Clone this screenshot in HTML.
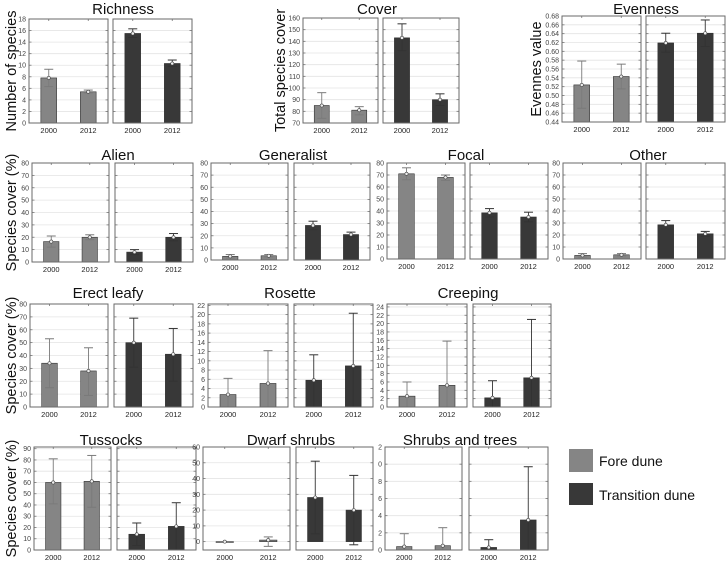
<!DOCTYPE html>
<html><head><meta charset="utf-8">
<style>
html,body{margin:0;padding:0;background:#fff;}
svg{display:block;font-family:"Liberation Sans",sans-serif;}
</style></head>
<body>
<svg id="fig" width="727" height="561" viewBox="0 0 727 561" xmlns="http://www.w3.org/2000/svg">
<g id="legend">
  <rect x="569" y="449" width="24" height="23" fill="#858585"/>
  <text x="599" y="466" font-size="14" fill="#111">Fore dune</text>
  <rect x="569" y="483" width="24" height="22" fill="#383838"/>
  <text x="599" y="500" font-size="14" fill="#111">Transition dune</text>
</g>
</svg>
<script>
const years = ['2000','2012'];
// values order: fore-2000, fore-2012, trans-2000, trans-2012
const richnessMean = [7.8, 5.4, 15.5, 10.3];
const richnessLow  = [6.3, 5.2, 14.8, 9.8];
const richnessHigh = [9.3, 5.7, 16.3, 10.9];
const richnessTicks = [0,2,4,6,8,10,12,14,16,18];

const coverMean = [85, 81, 143, 90];
const coverLow  = [74, 77, 132, 85];
const coverHigh = [96, 84, 155, 95];
const coverTicks = [70,80,90,100,110,120,130,140,150,160];

const evenMean = [0.524, 0.543, 0.619, 0.641];
const evenLow  = [0.471, 0.515, 0.598, 0.611];
const evenHigh = [0.578, 0.571, 0.641, 0.671];
const evenTicks = [0.44,0.46,0.48,0.50,0.52,0.54,0.56,0.58,0.60,0.62,0.64,0.66,0.68];

const alienMean = [16.5, 20, 8, 20];
const alienLow  = [12, 18, 6, 17];
const alienHigh = [21, 22, 10, 23];

const generalistMean = [3, 3.5, 28.5, 21];
const generalistLow  = [1.5, 2.5, 25, 19];
const generalistHigh = [4.5, 4.5, 32, 23];

const focalMean = [71, 68, 38.5, 35];
const focalLow  = [66, 65.5, 35, 31];
const focalHigh = [76, 70, 42, 39];

const otherMean = [3, 3.5, 28.5, 21];
const otherLow  = [1.5, 2.5, 25, 19];
const otherHigh = [4.5, 4.5, 32, 23];

const pct80Ticks = [0,10,20,30,40,50,60,70,80];

const erectMean = [34, 28, 50, 41];
const erectLow  = [15, 9, 31, 20];
const erectHigh = [53, 46, 69, 61];

const rosetteMean = [2.7, 5.1, 5.8, 8.9];
const rosetteLow  = [0, 0, 0, 0];
const rosetteHigh = [6.2, 12.2, 11.3, 20.3];
const rosetteTicks = [0,2,4,6,8,10,12,14,16,18,20,22];

const creepingMean = [2.6, 5.2, 2.2, 7];
const creepingLow  = [0, 0, 0, 0];
const creepingHigh = [6, 15.8, 6.3, 21];
const creepingTicks = [0,2,4,6,8,10,12,14,16,18,20,22,24];

const tussockMean = [60, 61, 14, 21];
const tussockLow  = [41, 38, 4, 0];
const tussockHigh = [81, 84, 24, 42];
const tussockTicks = [0,10,20,30,40,50,60,70,80,90];

const dwarfMean = [0, 1, 28, 20];
const dwarfLow  = [0, -3, 5, -2];
const dwarfHigh = [0, 3, 51, 42];
const dwarfTicks = [0,10,20,30,40,50,60];

const shrubMean = [0.4, 0.5, 0.3, 3.5];
const shrubLow  = [0, 0, 0, 0];
const shrubHigh = [1.9, 2.6, 1.2, 9.7];
const shrubTicks = [0,2,4,6,8,10,12];
const shrubTickLabels = ['0','2','4','6','8','0','2'];

const NS='http://www.w3.org/2000/svg';
const svg=document.getElementById('fig');
function mk(tag, attrs, parent){
  const e=document.createElementNS(NS,tag);
  for(const k in attrs) e.setAttribute(k, attrs[k]);
  (parent||svg).appendChild(e);
  return e;
}
function fmt(v, dec){ return dec ? v.toFixed(dec) : String(v); }

const charts = [
 {id:'richness',title:'Richness',tx:123,ty:14,ylab:'Number of species',ylx:12,p:[[29,79],[113,79]],top:19,bot:123,min:0,max:18,ticks:richnessTicks,m:richnessMean,lo:richnessLow,hi:richnessHigh},
 {id:'cover',title:'Cover',tx:377,ty:14,ylab:'Total species cover',ylx:281,p:[[303,75],[383,76]],top:18,bot:123,min:70,max:160,ticks:coverTicks,m:coverMean,lo:coverLow,hi:coverHigh},
 {id:'evenness',title:'Evenness',tx:646,ty:14,ylab:'Evennes value',ylx:537,p:[[562,79],[646,79]],top:16,bot:122,min:0.44,max:0.68,dec:2,ticks:evenTicks,m:evenMean,lo:evenLow,hi:evenHigh},
 {id:'alien',title:'Alien',tx:118,ty:160,ylab:'Species cover (%)',ylx:12,p:[[32,77],[115,78]],top:163,bot:262,min:0,max:80,ticks:pct80Ticks,m:alienMean,lo:alienLow,hi:alienHigh},
 {id:'generalist',title:'Generalist',tx:293,ty:160,p:[[211,77],[294,76]],top:163,bot:260,min:0,max:80,ticks:pct80Ticks,m:generalistMean,lo:generalistLow,hi:generalistHigh},
 {id:'focal',title:'Focal',tx:466,ty:160,p:[[387,78],[470,78]],top:163,bot:259,min:0,max:80,ticks:pct80Ticks,m:focalMean,lo:focalLow,hi:focalHigh},
 {id:'other',title:'Other',tx:648,ty:160,p:[[563,78],[646,79]],top:163,bot:259,min:0,max:80,ticks:pct80Ticks,m:otherMean,lo:otherLow,hi:otherHigh},
 {id:'erect-leafy',title:'Erect leafy',tx:108,ty:298,ylab:'Species cover (%)',ylx:12,p:[[30,78],[114,79]],top:304,bot:407,min:0,max:80,ticks:pct80Ticks,m:erectMean,lo:erectLow,hi:erectHigh},
 {id:'rosette',title:'Rosette',tx:290,ty:298,p:[[208,80],[294,79]],top:304,bot:407,min:0,max:22.3,ticks:rosetteTicks,m:rosetteMean,lo:rosetteLow,hi:rosetteHigh},
 {id:'creeping',title:'Creeping',tx:468,ty:298,p:[[387,80],[473,78]],top:304,bot:407,min:0,max:24.7,ticks:creepingTicks,m:creepingMean,lo:creepingLow,hi:creepingHigh},
 {id:'tussocks',title:'Tussocks',tx:111,ty:445,ylab:'Species cover (%)',ylx:12,p:[[34,77],[117,79]],top:447,bot:550,min:0,max:91.5,ticks:tussockTicks,m:tussockMean,lo:tussockLow,hi:tussockHigh},
 {id:'dwarf-shrubs',title:'Dwarf shrubs',tx:291,ty:445,p:[[203,87],[296,77]],top:447,bot:550,min:-5.3,max:60,ticks:dwarfTicks,m:dwarfMean,lo:dwarfLow,hi:dwarfHigh},
 {id:'shrubs-and-trees',title:'Shrubs and trees',tx:460,ty:445,p:[[385,77],[469,79]],top:447,bot:550,min:0,max:12,ticks:shrubTicks,tl:shrubTickLabels,m:shrubMean,lo:shrubLow,hi:shrubHigh}
];

charts.forEach(c=>{
  const g=mk('g',{});
  
  
  const y=v=>c.bot-(v-c.min)/(c.max-c.min)*(c.bot-c.top);
  const clampY=v=>Math.max(c.top,Math.min(c.bot,y(v)));
  const t=mk('text',{x:c.tx,y:c.ty,'font-size':15,'text-anchor':'middle',fill:'#111'},g);
  t.textContent=c.title;
  
  
  if(c.ylab){
    const cy=(c.top+c.bot)/2;
    const yl=mk('text',{x:c.ylx,y:cy,'font-size':14.5,'text-anchor':'middle','dominant-baseline':'central',fill:'#111',transform:`rotate(-90 ${c.ylx} ${cy})`},g);
    yl.textContent=c.ylab;
    
    
  }
  c.ticks.forEach((tv,i)=>{
    const lab=mk('text',{x:c.p[0][0]-3,y:y(tv)+2.5,'font-size':7,'text-anchor':'end',fill:'#444'},g);
    lab.textContent=c.tl?c.tl[i]:fmt(tv,c.dec);
    
    
  });
  c.p.forEach((pp,pi)=>{
    const [x0,w]=pp;
    const pg=mk('g',{},g);
    
    
    c.ticks.forEach(tv=>{
      const yy=y(tv);
      if(yy>c.top+0.5 && yy<c.bot-0.5) mk('line',{x1:x0,x2:x0+w,y1:yy,y2:yy,stroke:'#e4e4e4','stroke-width':0.8},pg);
      mk('line',{x1:x0,x2:x0+2.5,y1:yy,y2:yy,stroke:'#777','stroke-width':0.8},pg);
      mk('line',{x1:x0+w-2.5,x2:x0+w,y1:yy,y2:yy,stroke:'#777','stroke-width':0.8},pg);
    });
    const fill=pi===0?'#858585':'#383838';
    const wcol=pi===0?'#7a7a7a':'#333';
    [0.25,0.75].forEach((f,k)=>{
      const idx=pi*2+k;
      const cx=x0+w*f, bw=w*0.2;
      const yt=clampY(c.m[idx]), yb=clampY(0>c.min?0:c.min);
      const b=mk('rect',{x:cx-bw/2,y:Math.min(yt,yb),width:bw,height:Math.max(0.8,Math.abs(yb-yt)),fill:fill,stroke:'#333','stroke-width':0.6},pg);
      
      
      const yh=clampY(c.hi[idx]), yl=clampY(c.lo[idx]);
      mk('line',{x1:cx,x2:cx,y1:yh,y2:yl,stroke:wcol,'stroke-width':0.9},pg);
      mk('line',{x1:cx-4.5,x2:cx+4.5,y1:yh,y2:yh,stroke:wcol,'stroke-width':1},pg);
      if(c.lo[idx]>c.min) mk('line',{x1:cx-4.5,x2:cx+4.5,y1:yl,y2:yl,stroke:wcol,'stroke-width':1},pg);
      mk('circle',{cx:cx,cy:yt,r:1.6,fill:'#eee',stroke:'#444','stroke-width':0.6},pg);
      mk('line',{x1:cx,x2:cx,y1:c.top,y2:c.top+2,stroke:'#777','stroke-width':0.8},pg);
      const xl=mk('text',{x:cx,y:c.bot+10,'font-size':7.5,'text-anchor':'middle',fill:'#222'},pg);
      xl.textContent=years[k];
      
      
    });
    mk('rect',{x:x0,y:c.top,width:w,height:c.bot-c.top,fill:'none',stroke:'#6a6a6a','stroke-width':1},pg);
  });
});
</script>
</body></html>
